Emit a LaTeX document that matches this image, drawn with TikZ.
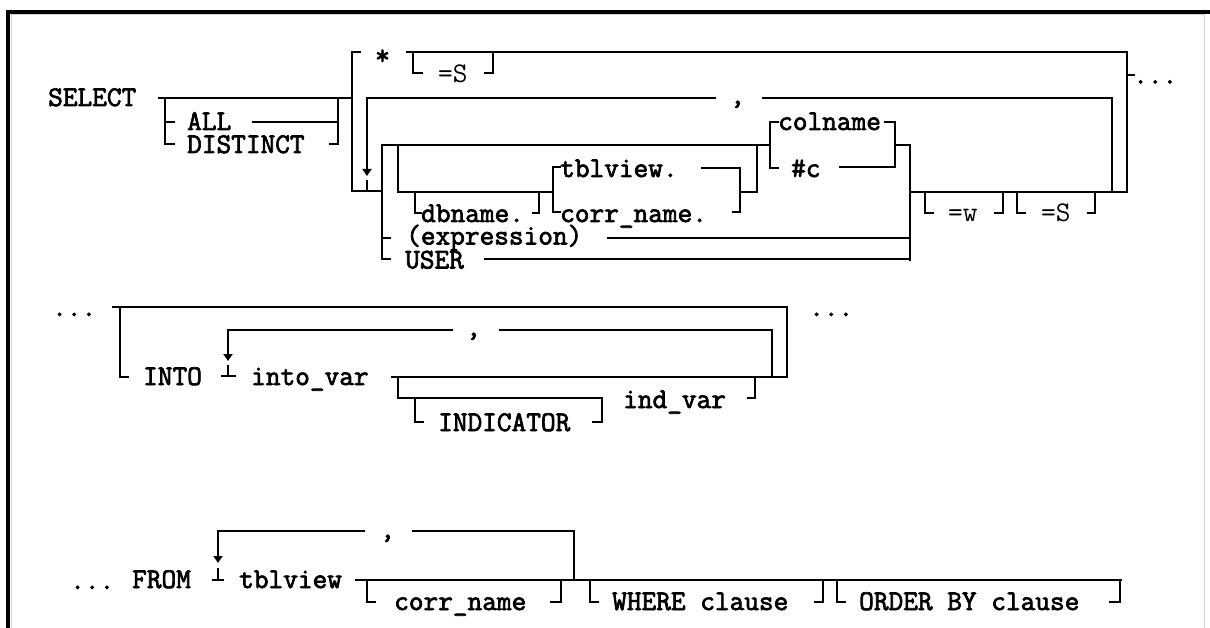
\documentclass[tikz,border=0pt]{standalone}
\usepackage{fontspec}
\newfontfamily\ddlb[FakeBold=2.5]{Latin Modern Mono}
\newfontfamily\ddlr{Latin Modern Mono}
\usetikzlibrary{arrows.meta}
\tikzset{
  hln/.style={line width=1.8pt, line cap=rect},
  vln/.style={line width=2.8pt, line cap=rect},
  tb/.style={anchor=base west, inner sep=0pt, text height=17pt, text depth=2pt, font=\fontsize{28.5}{30}\ddlb},
  tr/.style={anchor=base west, inner sep=0pt, text height=17pt, text depth=2pt, font=\fontsize{28.5}{30}\ddlr},
  dn/.style={line width=2.2pt, -{Triangle[width=9pt,length=7pt]}},
}
\newcommand\myH[3]{\draw[hln] (#1,#3) -- (#2,#3);}
\newcommand\myV[3]{\draw[vln] (#1,#2) -- (#1,#3);}
\begin{document}
\begin{tikzpicture}[x=1pt,y=-1pt]
\useasboundingbox (0,0) rectangle (1210,628);
% frame
\draw[gray!35, line width=1pt] (11,628) -- (11,15) -- (1204,15) -- (1204,628);
\draw[line width=4pt] (8,628) -- (8,12) -- (1210,12);

% ---------- row 1 ----------
\node[tb] (sel) at (48,106) {SELECT};
\myH{159}{352}{98}
\myV{165}{98}{144} \myH{165}{174}{122} \myH{165}{174}{144}
\node[tb] (all) at (187,130) {ALL};
\node[tb] (dist) at (187,153) {DISTINCT};
\myH{253}{338}{122} \myH{330}{338}{144} \myV{338}{98}{144}
\myV{352}{52}{191} \myH{352}{360}{52}
\node[tb] (star) at (375,64.5) {*};
\myH{407}{1127}{52}
\myV{413}{52}{73} \myH{413}{422}{73}
\node[tr] (eqs1) at (438,83) {=S};
\myH{485}{493}{73} \myV{493}{52}{73}
% comma loop
\myH{367}{715}{98}
\node[tb] (c1) at (730,104) {,};
\myH{763}{1112}{98} \myV{1112}{98}{192}
\draw[dn] (367,98) -- (367,176);
\myV{367}{181}{191}
\myH{352}{382}{191}
% choice column
\myV{382}{145}{259} \myH{382}{390}{238} \myH{382}{390}{259}
\myH{382}{770}{145}
\myV{398}{145}{192} \myH{398}{553}{192}
\myV{415}{192}{213} \myH{415}{421}{213}
\node[tb] (db) at (421,222) {dbname.};
\myH{533}{539}{213} \myV{539}{192}{213}
\myV{553}{167}{212} \myH{553}{560}{167} \myH{553}{560}{212}
\node[tb] (tv) at (560,177) {tblview.};
\node[tb] (cn) at (560,222) {corr\_name.};
\myH{702}{740}{168} \myV{740}{168}{212} \myH{733}{740}{212}
\myH{740}{757}{192} \myV{757}{145}{192}
\myV{770}{122}{168} \myH{770}{778}{122} \myH{770}{778}{168}
\node[tb] (col) at (778,130) {colname};
\myH{885}{895}{122} \myV{895}{122}{167}
\node[tb] (hc) at (791,177) {\#c};
\myH{840}{895}{167}
\myH{895}{910}{145} \myV{910}{145}{260}
\node[tb] (expr) at (406,244.5) {(expression)};
\myH{608}{910}{238}
\node[tb] (user) at (405,268.5) {USER};
\myH{485}{910}{259}
\myH{910}{1127}{192}
\myV{925}{192}{213} \myH{925}{933}{213}
\node[tr] (eqw) at (948,222) {=w};
\myH{995}{1003}{213} \myV{1003}{192}{213}
\myV{1017}{192}{213} \myH{1017}{1025}{213}
\node[tr] (eqs2) at (1041,222) {=S};
\myH{1088}{1095}{213} \myV{1095}{192}{213}
\myV{1127}{52}{192} \myH{1127}{1134}{75}
\node[tb] (dots1) at (1133,83.5) {...};

% ---------- row 2 ----------
\node[tb] (dots2) at (52,316) {...};
\myH{113}{787}{307} \myV{120}{307}{377} \myH{120}{128}{377}
\node[tb] (into) at (143,385) {INTO};
\draw[dn] (228,330) -- (228,361);
\myV{228}{366}{376} \myH{222}{235}{376}
\myH{228}{452}{330}
\node[tb] (c2) at (466,336) {,};
\myH{500}{772}{330} \myV{772}{330}{377}
\node[tb] (iv) at (251,385) {into\_var};
\myH{392}{787}{377} \myV{787}{307}{377}
\myV{398}{377}{398} \myH{398}{602}{398}
\myV{415}{398}{422} \myH{415}{423}{422}
\node[tb] (ind) at (438,431) {INDICATOR};
\myH{593}{602}{422} \myV{602}{398}{422}
\node[tb] (indv) at (623,408) {ind\_var};
\myH{748}{755}{398} \myV{755}{377}{398}
\node[tb] (dots3) at (809,316) {...};

% ---------- row 3 ----------
\node[tb] (dots4) at (70,589) {...};
\node[tb] (from) at (132,588) {FROM};
\draw[dn] (218,531) -- (218,563);
\myV{218}{569}{580} \myH{213}{223}{580}
\myH{218}{364}{531}
\node[tb] (c3) at (380,538) {,};
\myH{413}{574}{531} \myV{574}{531}{580}
\node[tb] (tbl) at (239,588) {tblview};
\myH{356}{1121}{580}
\myV{367}{580}{602} \myH{367}{375}{602}
\node[tb] (corr) at (394,610) {corr\_name};
\myH{551}{561}{602} \myV{561}{580}{602}
\myV{590}{580}{602} \myH{590}{598}{602}
\node[tb] (where) at (612,610) {WHERE clause};
\myH{815}{823}{602} \myV{823}{580}{602}
\myV{837}{580}{602} \myH{837}{845}{602}
\node[tb] (order) at (859,610) {ORDER BY clause};
\myH{1110}{1120}{602} \myV{1120}{580}{602}
\end{tikzpicture}
\end{document}
